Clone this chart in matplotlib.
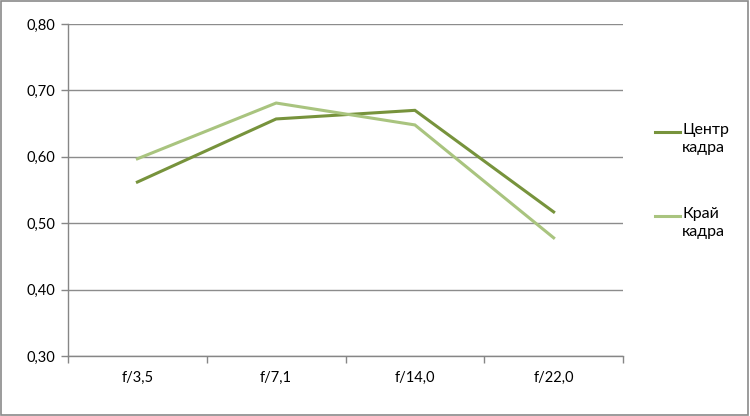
import matplotlib
matplotlib.use('agg')
import matplotlib.pyplot as plt
from matplotlib.lines import Line2D
from matplotlib.patches import Rectangle
from matplotlib.ticker import FuncFormatter

# data
apertures = ["f/3,5", "f/7,1", "f/14,0", "f/22,0"]
center = [0.562, 0.657, 0.670, 0.517]
edge = [0.597, 0.681, 0.648, 0.478]
series_names = ["Центр\nкадра", "Край\nкадра"]
colors = ["#77933C", "#A9C47F"]

plt.rcParams['font.family'] = ['Lato', 'DejaVu Sans']
plt.rcParams['font.size'] = 10.5

fig = plt.figure(figsize=(7.5, 4.16), dpi=100)
ax = fig.add_axes([0.0907, 0.1442, 0.740, 0.7981])

x = range(len(apertures))
ax.plot(x, center, color=colors[0], lw=2.2, solid_joinstyle='miter')
ax.plot(x, edge, color=colors[1], lw=2.2, solid_joinstyle='miter')

ax.set_xlim(-0.5, len(apertures) - 0.5)
ax.set_ylim(0.30, 0.80)
ax.set_yticks([0.30, 0.40, 0.50, 0.60, 0.70, 0.80])
ax.yaxis.set_major_formatter(FuncFormatter(lambda v, p: ("%.2f" % v).replace('.', ',')))
ax.set_xticks(x)
ax.set_xticklabels(apertures)
ax.set_xticks([i - 0.5 for i in range(len(apertures) + 1)], minor=True)
ax.tick_params(axis='x', which='major', length=0, pad=11)
ax.tick_params(axis='x', which='minor', length=5, color='#868686', width=1)
ax.tick_params(axis='y', length=5, color='#868686', width=1, pad=4)

ax.grid(axis='y', color='#8C8C8C', lw=1)
ax.set_axisbelow(True)
for s in ['top', 'right']:
    ax.spines[s].set_visible(False)
for s in ['left', 'bottom']:
    ax.spines[s].set_color('#868686')
    ax.spines[s].set_linewidth(1)

# legend drawn by hand so the handle sits next to the first text line
for name, c, ytop in zip(series_names, colors, [1 - 132 / 416, 1 - 216 / 416]):
    fig.add_artist(Line2D([655 / 750, 680 / 750], [ytop, ytop], color=c, lw=2.2))
    fig.text(682 / 750, ytop + 9 / 416, name, va='top', ha='left',
             fontsize=11.5, linespacing=1.35)

# outer frame
fig.add_artist(Rectangle((0.001, 0.002), 0.996, 0.995, transform=fig.transFigure,
                         fill=False, edgecolor='#8A8A8A', lw=1.2))

fig.savefig("out.png", dpi=100)
